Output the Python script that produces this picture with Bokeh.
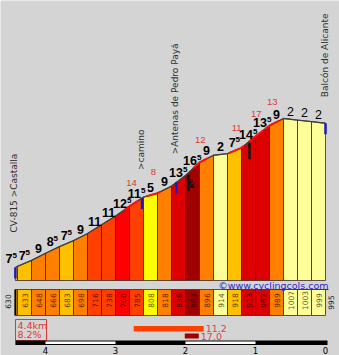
import numpy as np
from bokeh.plotting import figure
from bokeh.models import Range1d
from bokeh.core.properties import value
from bokeh.embed import file_html
from bokeh.resources import INLINE

# ---------------- data ----------------
km = [4.43, 4.4, 4.2, 4.0, 3.8, 3.6, 3.4, 3.2, 3.0, 2.8, 2.6, 2.4, 2.2,
      2.0, 1.8, 1.6, 1.4, 1.2, 1.0, 0.8, 0.6, 0.4, 0.2, 0.0]
elev = [630, 633, 648, 666, 683, 698, 716, 738, 760, 785, 808, 818, 836,
        863, 896, 914, 918, 933, 962, 989, 1007, 1003, 999, 995]
grades = [7.5, 7.5, 9, 8.5, 7.5, 9, 11, 11, 12.5, 11.5, 5, 9, 13.5, 16.5,
          9, 2, 7.5, 14.5, 13.5, 9, -2, -2, -2]
max_km = [2.77, 2.46, 1.79, 1.27, 0.99, 0.76]
max_val = [14, 8, 12, 11, 17, 13]
place_names = ["CV-815 >Castalla", ">camino", ">Antenas de Pedro Payá",
               "Balcón de Alicante"]
place_km = [4.43, 2.62, 2.13, 0.0]
icon_km = [1.96, 1.086]
km_ticks = [4, 3, 2, 1, 0]
total_km = "4.4km"
avg_grade = "8.2%"
steep_labels = ["11.2", "17.0"]
steep_vals = [11.2, 17.0]
steep_from = [2.74, 2.01]
steep_to = [1.74, 1.81]
site = "©www.cyclingcols.com"

# ---------------- layout helpers (pixel -> data) ----------------
W, H = 339, 355
X0PX, PXKM = 325.0, 70.0          # pixel of km 0, pixels per km
YREFPX, PXM = 267.0, 0.3952       # pixel of first elevation, pixels per metre
REF = elev[0]


def kx(px):
    return (X0PX - px) / PXKM


def ey(py):
    return REF + (YREFPX - py) / PXM


def dy(px):
    return px / PXM


def dx(px):
    return px / PXKM


def grade_color(g):
    if g < 3:
        return "#FFFF99"
    if g < 6:
        return "#FFFF00"
    if g < 8:
        return "#FFC000"
    if g < 10:
        return "#FF8000"
    if g < 12:
        return "#FF4000"
    if g < 13:
        return "#FF0000"
    if g < 15:
        return "#DD0000"
    return "#A00000"


km_inc = km[::-1]
el_inc = elev[::-1]


def elev_at(k):
    return float(np.interp(k, km_inc, el_inc))


FONT = value("DejaVu Sans")
FONT2 = value("Liberation Sans")

p = figure(width=W, height=H, output_backend="svg", toolbar_location=None,
           x_range=Range1d(kx(0), kx(W)), y_range=Range1d(ey(H), ey(0)),
           min_border=0, background_fill_color="#D4D4D4",
           border_fill_color="#D4D4D4", outline_line_color=None)
p.axis.visible = False
p.grid.visible = False

n = len(grades)
colors = [grade_color(abs(g) if g > 0 else 0) for g in grades]
base = ey(280)

# profile columns
xs = [[km[i], km[i], km[i + 1], km[i + 1]] for i in range(n)]
ys = [[base, elev[i], elev[i + 1], base] for i in range(n)]
p.patches(xs, ys, fill_color=colors, line_color="#3a2626", line_width=0.8)
p.line(km, elev, line_color="#404040", line_width=1.3)

# steepest stretches in red on the top line
mx, my = [], []
for k in max_km:
    kk = list(np.linspace(k + 0.1, k - 0.1, 7))
    mx.append(kk)
    my.append([elev_at(v) for v in kk])
p.multi_line(mx, my, line_color="#FF1010", line_width=2.0)
p.text([k for k in max_km], [elev_at(k) + dy(22) for k in max_km],
       text=[str(v) for v in max_val], text_align="center",
       text_baseline="middle", text_font=FONT2, text_font_size="9.5px",
       text_color="#E03636")

# gradient labels
mt_x, mt_y, mt_t, sp_x, sp_y, sp_t = [], [], [], [], [], []
nb_x, nb_y, nb_t = [], [], []
for i, g in enumerate(grades):
    c = (km[i] + km[i + 1]) / 2
    if i == 0:
        c += dx(5)
    y = (elev[i] + elev[i + 1]) / 2 + dy(8)
    a = abs(g)
    main = str(int(a))
    has_sup = (a % 1) != 0
    wm = 6.7 * len(main)
    ws = 4.5
    if g < 0:
        nb_x.append(c)
        nb_y.append(y)
        nb_t.append(main)
        continue
    if has_sup:
        right = c - dx((wm - ws) / 2)
        mt_x.append(right)
        sp_x.append(right)
        sp_y.append(y + dy(3))
        sp_t.append("5")
    else:
        mt_x.append(c - dx(wm / 2))
    mt_y.append(y)
    mt_t.append(main)
p.text(mt_x, mt_y, text=mt_t, text_align="right", text_baseline="middle",
       text_font=FONT2, text_font_style="bold", text_font_size="12.5px",
       text_color="#000000")
p.text(sp_x, sp_y, text=sp_t, text_align="left", text_baseline="middle",
       text_font=FONT2, text_font_style="bold", text_font_size="8px",
       text_color="#000000")
p.text(nb_x, nb_y, text=nb_t, text_align="center", text_baseline="middle",
       text_font=FONT2, text_font_size="12.5px", text_color="#000000")

# place markers (blue) and names
PLACE_GAP = [35, 28, 28, 26]
p.segment([k for k in place_km], [elev_at(k) for k in place_km],
          [k for k in place_km], [elev_at(k) - dy(11) for k in place_km],
          line_color="#1A1AC0", line_width=2.5)
p.text([k + dx(1) for k in place_km],
       [elev_at(k) + dy(gp) for k, gp in zip(place_km, PLACE_GAP)],
       text=place_names, angle=np.pi / 2, text_align="left",
       text_baseline="middle", text_font=FONT, text_font_size="9px",
       text_color="#303030")

# black icons
p.segment(icon_km, [elev_at(k) - dy(2) for k in icon_km],
          icon_km, [elev_at(k) - dy(18) for k in icon_km],
          line_color="#111111", line_width=2.5)
p.text([icon_km[0] - dx(2)], [elev_at(icon_km[0]) - dy(11)], text=["&"],
       text_align="center", text_baseline="middle", text_font=FONT2,
       text_font_style="bold", text_font_size="12px", text_color="#111111")

# elevation strip
sb, st = ey(315), ey(289)
p.quad(left=km[:-1], right=km[1:], bottom=sb, top=st, fill_color=colors,
       line_color="#3a2626", line_width=0.8)
p.segment([km[0]], [sb], [km[0]], [st], line_color="#000000", line_width=2)
cx = [(km[i] + km[i + 1]) / 2 for i in range(1, n)]
p.text(cx, ey(300), text=[str(e) for e in elev[1:n]], angle=np.pi / 2,
       text_align="center", text_baseline="middle", text_font=FONT,
       text_font_size="7.5px", text_color="#000000", text_alpha=0.7)
p.text([km[0] + dx(7), km[-1] - dx(5.5)], [ey(301), ey(302)],
       text=[str(elev[0]), str(elev[-1])], angle=np.pi / 2,
       text_align="center", text_baseline="middle", text_font=FONT,
       text_font_size="7.5px", text_color="#202020")

# website
p.text([kx(328)], [ey(284.5)], text=[site], text_align="right",
       text_baseline="middle", text_font=FONT, text_font_size="9.5px",
       text_color="#2A2AC8")
p.segment([kx(222)], [ey(289)], [kx(328)], [ey(289)],
          line_color="#2A2AC8", line_width=1)

# summary box
p.quad(left=kx(15), right=kx(46), top=ey(319), bottom=ey(340),
       fill_color=None, line_color="#E03636", line_width=1)
p.text([kx(17), kx(17)], [ey(325), ey(334)], text=[total_km, avg_grade],
       text_align="left", text_baseline="middle", text_font=FONT,
       text_font_size="9.5px", text_color="#E03636")

# steepest km / steepest section bars
p.quad(left=steep_from, right=steep_to, top=[ey(325.5), ey(333)],
       bottom=[ey(331), ey(338)],
       fill_color=[grade_color(v) for v in steep_vals], line_color=None)
p.text([s - dx(2) for s in steep_to], [ey(328), ey(336)], text=steep_labels,
       text_align="left", text_baseline="middle", text_font=FONT,
       text_font_size="9.5px", text_color="#E0404E")

# km scale bar
p.quad(left=[km[0]], right=[km[-1] - dx(2)], top=ey(340), bottom=ey(344.5),
       fill_color="#000000", line_color=None)
wl = [km_ticks[i] for i in range(0, len(km_ticks) - 1, 2)]
wr = [km_ticks[i + 1] for i in range(0, len(km_ticks) - 1, 2)]
p.quad(left=wl, right=wr, top=ey(341), bottom=ey(343.5),
       fill_color="#FFFFFF", line_color=None)
p.text(km_ticks, ey(350), text=[str(t) for t in km_ticks], text_align="center",
       text_baseline="middle", text_font=FONT, text_font_size="8.5px",
       text_color="#000000")

open("out.html", "w").write(file_html(p, INLINE))
